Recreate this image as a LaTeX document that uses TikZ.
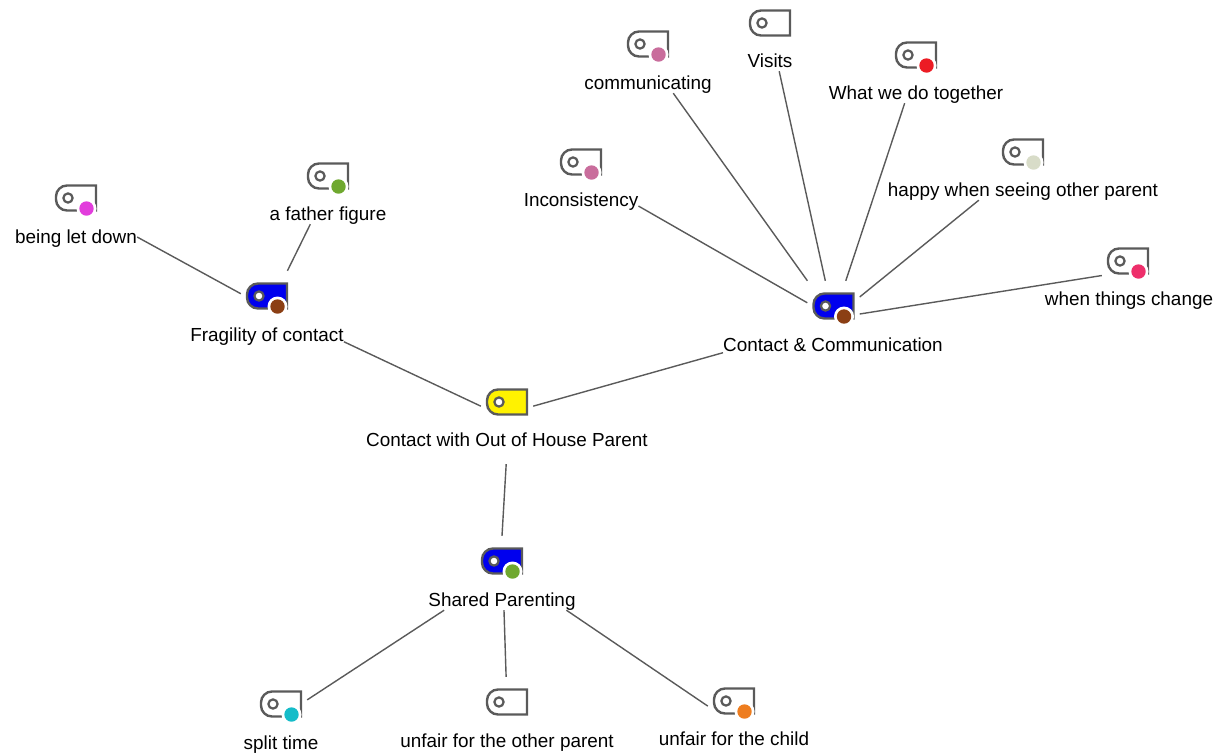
\documentclass[tikz,border=0pt]{standalone}
\usepackage{fontspec}
\setmainfont{Liberation Sans}

\definecolor{tagline}{HTML}{5A5A5A}
\definecolor{tagblue}{HTML}{0000EE}
\definecolor{dotbrown}{HTML}{8B3F14}
\definecolor{dotgreen}{HTML}{6FA82F}
\definecolor{dotpink}{HTML}{C96D9C}
\definecolor{dotmagenta}{HTML}{E23DDC}
\definecolor{dotred}{HTML}{EC1C24}
\definecolor{dotpale}{HTML}{D8DCC8}
\definecolor{dotrose}{HTML}{EE2F6B}
\definecolor{dotcyan}{HTML}{15BCC9}
\definecolor{dotorange}{HTML}{EE7D1F}

\newcommand{\tagshape}[1]{
    \draw [tagline, line width=2.4pt, fill=#1] (20,-12.5) [rounded corners=11pt] -- (-20,-12.5) -- (-20,12.5) [sharp corners] -- (20,12.5) -- cycle;
    \draw [tagline, line width=2.2pt, fill=white] (-8,0) circle (4.6);
}

\tikzset{
    tagbox/.style={rectangle, minimum width=52pt, minimum height=50pt, inner sep=0pt,
        path picture={
            \begin{scope}[shift={(path picture bounding box.center)}]
                \tagshape{#1}
            \end{scope}
        }},
    dottag/.style 2 args={rectangle, minimum width=52pt, minimum height=50pt, inner sep=0pt,
        path picture={
            \begin{scope}[shift={(path picture bounding box.center)}]
                \tagshape{#1}
                \fill [white] (10.5,10.5) circle (10);
                \fill [#2] (10.5,10.5) circle (7.2);
            \end{scope}
        }},
    textlabel/.style={rectangle, inner sep=0pt, text height=16pt, text depth=4pt, font=\fontsize{18.9pt}{21pt}\selectfont},
    link/.style={draw=tagline, line width=1.4pt}
}

\begin{document}
\begin{tikzpicture}[x=1pt, y=-1pt]
    \useasboundingbox (0,0) rectangle (1226,753);

    % root
    \node (roottag) [tagbox=yellow] at (507,402) {};
    \node (root) [textlabel] at (507,440) {Contact with Out of House Parent};

    % left branch
    \node (fragilitytag) [dottag={tagblue}{dotbrown}] at (267,296) {};
    \node (fragility) [textlabel] at (267,335) {Fragility of contact};
    \node (letdowntag) [dottag={white}{dotmagenta}] at (76,198) {};
    \node (letdown) [textlabel] at (76,237) {being let down};
    \node (fathertag) [dottag={white}{dotgreen}] at (328,176) {};
    \node (father) [textlabel] at (328,214) {a father figure};

    % right branch
    \node (contacttag) [dottag={tagblue}{dotbrown}] at (833.5,306) {};
    \node (contact) [textlabel] at (833,345) {Contact \& Communication};
    \node (inconsistencytag) [dottag={white}{dotpink}] at (581,162) {};
    \node (inconsistency) [textlabel] at (581,200) {Inconsistency};
    \node (communicatingtag) [dottag={white}{dotpink}] at (648,44) {};
    \node (communicating) [textlabel] at (648,83) {communicating};
    \node (visitstag) [tagbox=white] at (770,23) {};
    \node (visits) [textlabel] at (770,61) {Visits};
    \node (togethertag) [dottag={white}{dotred}] at (916,55) {};
    \node (together) [textlabel] at (916,93) {What we do together};
    \node (happytag) [dottag={white}{dotpale}] at (1023,152) {};
    \node (happy) [textlabel] at (1023,190) {happy when seeing other parent};
    \node (changetag) [dottag={white}{dotrose}] at (1128,261) {};
    \node (change) [textlabel] at (1129,299) {when things change};

    % lower branch
    \node (sharedtag) [dottag={tagblue}{dotgreen}] at (502,561) {};
    \node (shared) [textlabel] at (502,600) {Shared Parenting};
    \node (splittag) [dottag={white}{dotcyan}] at (281,704) {};
    \node (split) [textlabel] at (281,743) {split time};
    \node (othertag) [tagbox=white] at (507,702) {};
    \node (other) [textlabel] at (507,741) {unfair for the other parent};
    \node (childtag) [dottag={white}{dotorange}] at (734,701) {};
    \node (child) [textlabel] at (734,739) {unfair for the child};

    \draw [link] (letdown.east) -- (fragilitytag.175);
    \draw [link] (father.210) -- (fragilitytag.51);
    \draw [link] (fragility.355) -- (roottag.189);
    \draw [link] (roottag.351) -- (contact.184);
    \draw [link, shorten <=14pt] (root.south) -- (sharedtag.90);
    \draw [link] (shared.190) -- (splittag.9);
    \draw [link] (shared.281) -- (othertag.92);
    \draw [link] (shared.351) -- (childtag.191);
    \draw [link] (inconsistency.354) -- (contacttag.173);
    \draw [link] (communicating.338) -- (contacttag.136);
    \draw [link] (visits.312) -- (contacttag.108);
    \draw [link] (together.222) -- (contacttag.64);
    \draw [link] (happy.193) -- (contacttag.19);
    \draw [link] (changetag.209) -- (contacttag.343);
\end{tikzpicture}
\end{document}
